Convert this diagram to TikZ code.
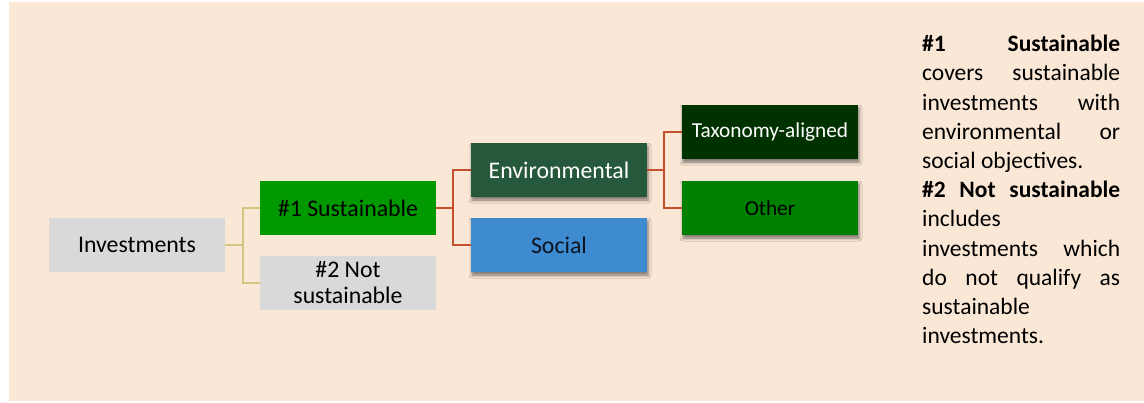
\documentclass[tikz,border=0pt]{standalone}
\usepackage{fontspec}
\setmainfont{Carlito}
\usetikzlibrary{shadows.blur}
\definecolor{bgc}{RGB}{250,231,214}
\definecolor{grayc}{RGB}{217,217,217}
\definecolor{susc}{RGB}{0,153,0}
\definecolor{envc}{RGB}{38,88,60}
\definecolor{socc}{RGB}{63,139,207}
\definecolor{taxc}{RGB}{0,50,0}
\definecolor{othc}{RGB}{0,128,0}
\definecolor{beigel}{RGB}{212,197,130}
\definecolor{redl}{RGB}{197,80,45}
\definecolor{navyt}{RGB}{10,20,35}
\tikzset{
  boxbase/.style={minimum width=176pt, minimum height=54pt, inner sep=0pt, align=center, font=\fontsize{23.8}{24}\selectfont},
  shadowed/.style={blur shadow={shadow xshift=1pt, shadow yshift=-3pt, shadow blur radius=3pt, shadow opacity=50}},
  beigeline/.style={draw=beigel, line width=2pt},
  redline/.style={draw=redl, line width=2pt},
}
\newcommand{\jl}[1]{\makebox[198pt][s]{#1}}
\begin{document}
\begin{tikzpicture}[x=1pt,y=-1pt]
\useasboundingbox (0,0) rectangle (1144,402);
\fill[bgc] (9,2) rectangle (1144,401);
% nodes
\node[boxbase, fill=grayc] (inv) at (137,245) {Investments};
\node[boxbase, fill=susc] (sus) at (348,208) {\#1 Sustainable};
\node[boxbase, fill=grayc, font=\fontsize{23.8}{26}\selectfont] (nsus) at (348,283) {\#2 Not\\sustainable};
\node[boxbase, fill=envc, text=white, shadowed] (env) at (559,170) {Environmental};
\node[boxbase, fill=socc, text=navyt, shadowed] (soc) at (559,245) {Social};
\node[boxbase, fill=taxc, text=white, shadowed, font=\fontsize{21.3}{22}\selectfont] (tax) at (770,132) {Taxonomy-aligned};
\node[boxbase, fill=othc, text=black, shadowed, font=\fontsize{21.3}{22}\selectfont] (oth) at (770,208) {Other};
% connectors
\coordinate (b1) at (243,245);
\coordinate (r1) at (453,208);
\coordinate (r2) at (664,170);
\draw[beigeline] (inv.east) -- (b1);
\draw[beigeline] (b1) |- (sus.west);
\draw[beigeline] (b1) |- (nsus.west);
\draw[redline] (sus.east) -- (r1);
\draw[redline] (r1) |- (env.west);
\draw[redline] (r1) |- (soc.west);
\draw[redline] (env.east) -- (r2);
\draw[redline] (r2) |- (tax.west);
\draw[redline] (r2) |- (oth.west);
% explanatory text
\node[anchor=north west, inner sep=0pt, align=left, font=\fontsize{23.5}{29.2}\selectfont] (txt) at (922,35) {%
\jl{\textbf{\#1} \textbf{Sustainable}}\\
\jl{covers sustainable}\\
\jl{investments with}\\
\jl{environmental or}\\
social objectives.\\
\jl{\textbf{\#2} \textbf{Not} \textbf{sustainable}}\\
includes\\
\jl{investments which}\\
\jl{do not qualify as}\\
sustainable\\
investments.};
\end{tikzpicture}
\end{document}
